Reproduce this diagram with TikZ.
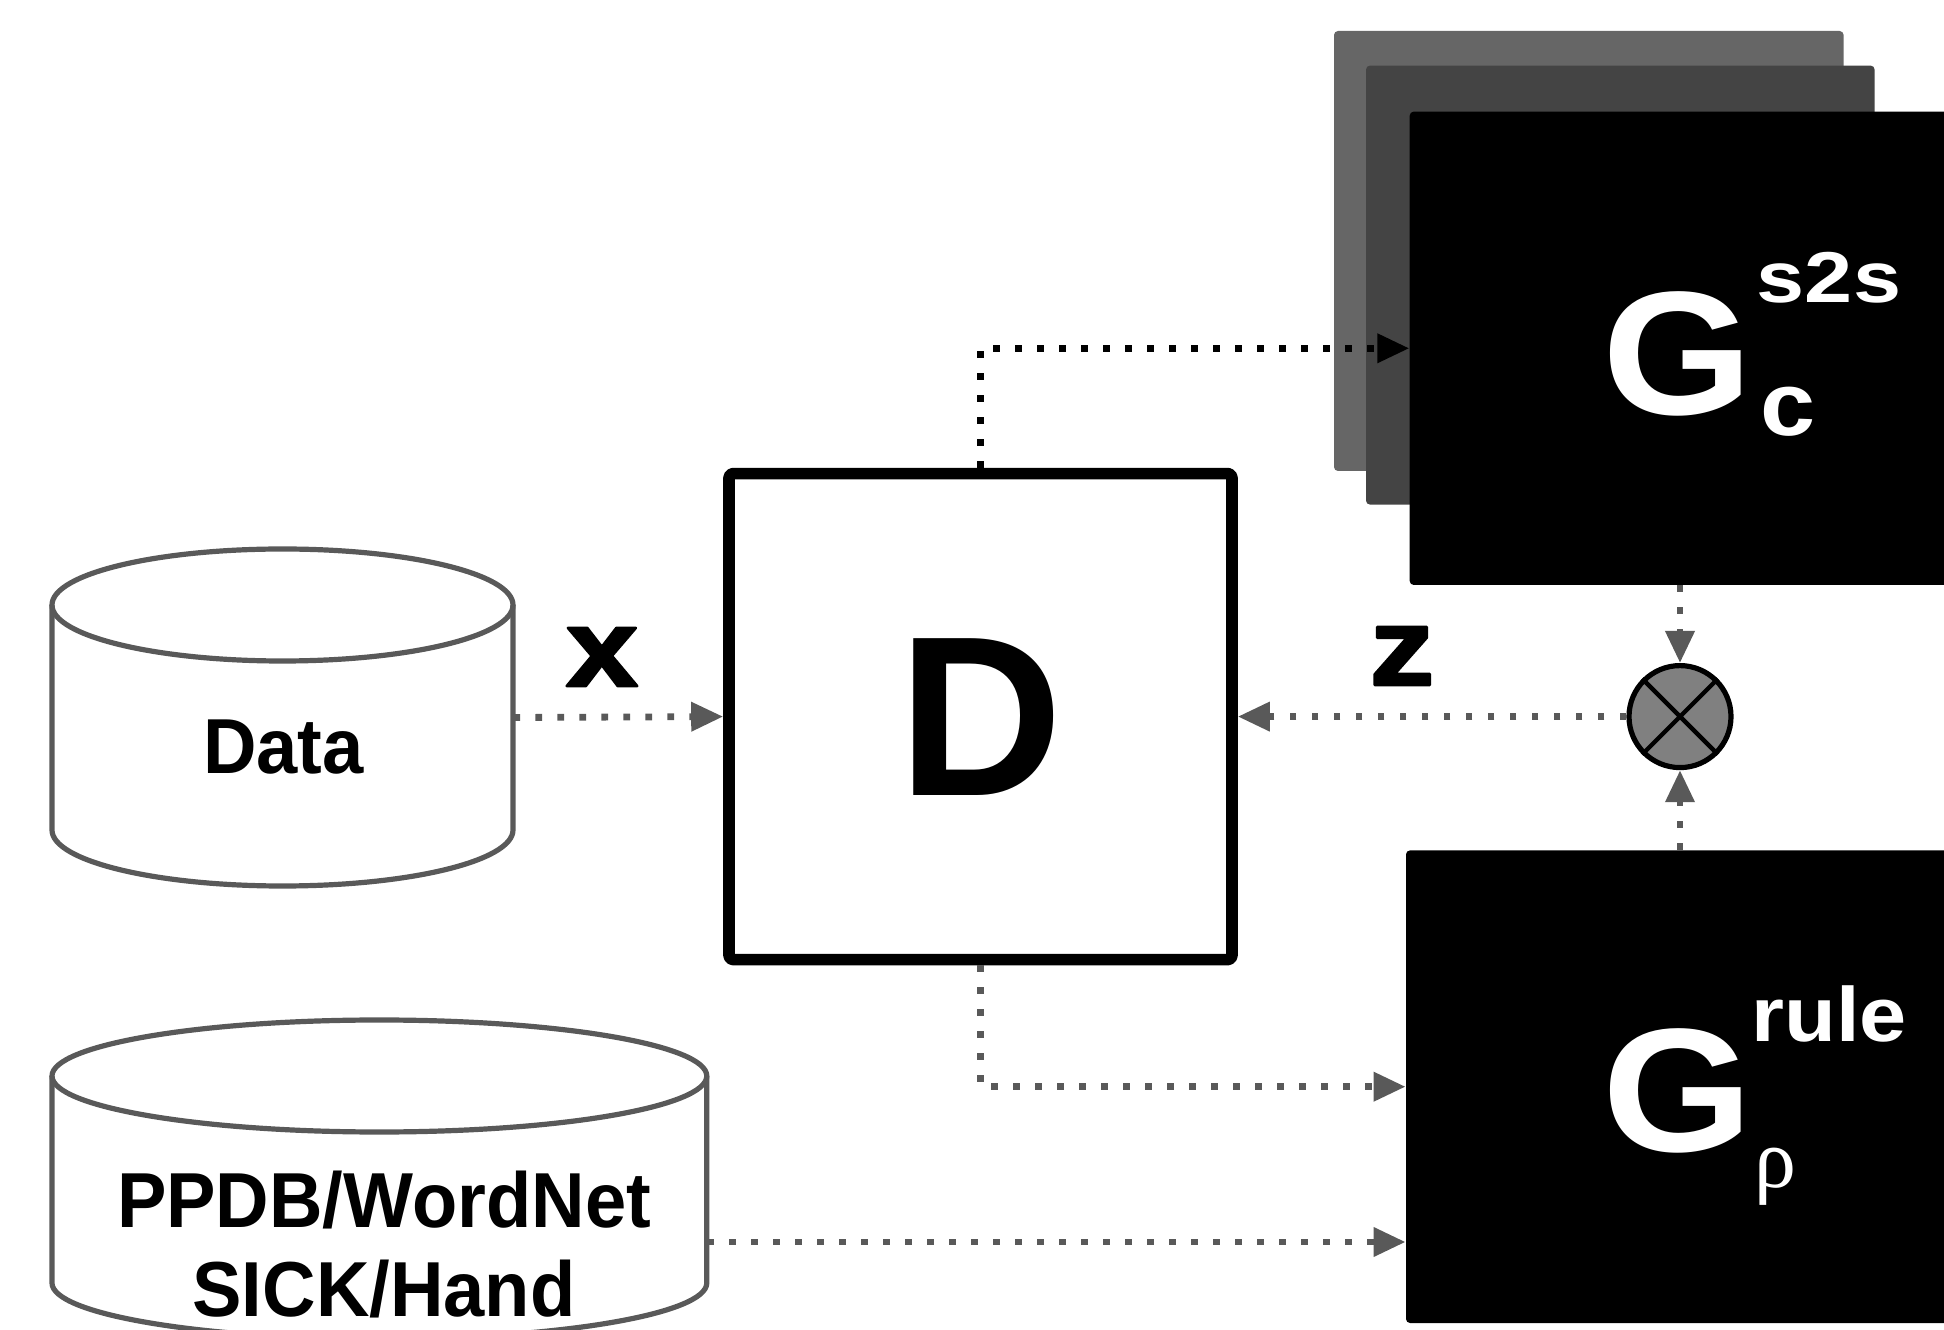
\documentclass[tikz,border=0pt]{standalone}
\usepackage{fontspec}
\setmainfont{Liberation Sans}
\newfontfamily\greekfont{Liberation Serif}
\newfontfamily\widesans[FakeStretch=1.1]{Liberation Sans}
\newfontfamily\supsans[FakeStretch=1.2]{Liberation Sans}
\newfontfamily\narrowsans[FakeStretch=0.95]{Liberation Sans}
\newfontfamily\heavysans[FakeStretch=1.18,FakeBold=2.5]{Liberation Sans}
\usetikzlibrary{arrows.meta}

\definecolor{linegray}{HTML}{595959}
\definecolor{backgray}{HTML}{666666}
\definecolor{midgray}{HTML}{444444}
\definecolor{mixgray}{HTML}{808080}
\newcommand{\fsz}[1]{\fontsize{#1}{#1}\selectfont\bfseries}

\begin{document}
\begin{tikzpicture}[x=0.5pt,y=0.5pt,>={Triangle[length=16pt,width=14pt]},
                    line join=round]
  \tikzstyle{flow}=[->,line width=3.4pt,dash pattern=on 3.4pt off 7.6pt,draw=linegray]
  \tikzstyle{card}=[rectangle,rounded corners=2pt,inner sep=0pt]
  \tikzstyle{dbline}=[draw=linegray,line width=2.6pt]
  \tikzstyle{blank}=[rectangle,inner sep=0pt]
  \tikzstyle{glyph}=[text=white,inner sep=0pt]

  \useasboundingbox (0,0) rectangle (1944,1329);
  \clip (0,0) rectangle (1944,1329);

  % stacked generator cards
  \node[card,fill=backgray,minimum width=254.8pt,minimum height=220pt] (sback) at (1588.8,1078) {};
  \node[card,fill=midgray,minimum width=254.3pt,minimum height=219.5pt] (smid) at (1620.3,1043.9) {};
  \node[card,fill=black,minimum width=270pt,minimum height=236.7pt] (sfront) at (1679.7,980.7) {};
  \node[card,fill=black,minimum width=272pt,minimum height=236.3pt] (rfront) at (1678,242.3) {};

  \node[glyph,font=\widesans\fsz{88}] (gs) at (1678,975) {G};
  \node[glyph,font=\supsans\fsz{36}] (gssup) at (1829,1051) {s2s};
  \node[glyph,font=\widesans\fsz{45}] (gssub) at (1788,917) {c};
  \node[glyph,font=\widesans\fsz{88}] (gr) at (1678,238) {G};
  \node[glyph,font=\widesans\fsz{38.5}] (grsup) at (1829,315) {rule};
  \node[glyph,font=\greekfont\fontsize{42}{42}\selectfont] (grsub) at (1775,152) {ρ};

  % discriminator
  \node[draw,line width=5.8pt,rounded corners=2pt,minimum width=251.5pt,
        minimum height=243pt,font=\fsz{114}] (D) at (980.5,612.4) {D};

  % data stores
  \node[blank,minimum width=230.5pt,minimum height=168.5pt] (data) at (282.5,611.5) {};
  \draw[dbline] (282.5,724) ellipse [x radius=230.5,y radius=56];
  \draw[dbline] (52,724) -- (52,499)
    arc[start angle=180,end angle=360,x radius=230.5,y radius=56] -- (513,724);
  \node[font=\narrowsans\fsz{39}] at (283.5,582) {Data};

  \node[blank,minimum width=327.4pt,minimum height=159.5pt] (ppdb) at (379.4,149.5) {};
  \draw[dbline] (379.4,253) ellipse [x radius=327.4,y radius=56];
  \draw[dbline] (52,253) -- (52,46)
    arc[start angle=180,end angle=360,x radius=327.4,y radius=56] -- (706.8,253);
  \node[font={\narrowsans\fontsize{39}{44.5}\selectfont\bfseries},align=center] at (384,84.5)
    {PPDB/WordNet\\SICK/Hand};

  % product node
  \node[circle,draw=black,fill=mixgray,line width=2.6pt,minimum size=51pt,inner sep=0pt] (mix) at (1680,612.4) {};
  \draw[line width=2.2pt] (mix.north west) -- (mix.south east)
                          (mix.north east) -- (mix.south west);

  \node[font=\heavysans\fsz{55}] (xlab) at (602,672) {x};
  \node[font=\heavysans\fsz{55}] (zlab) at (1402,673) {z};

  \draw[flow] (data.east) -- (D.west);
  \draw[flow] (mix.west) -- (D.east);
  \draw[flow] (mix |- sfront.south) -- (mix.north);
  \draw[flow] (mix |- rfront.north) -- (mix.south);
  \draw[flow,draw=black] (D.north) |- (sfront.west);
  \draw[flow] (D.south) |- (rfront.west);
  \draw[flow] ([yshift=-31.25pt]ppdb.east) -- ([yshift=-31.25pt]ppdb.east -| rfront.west);
\end{tikzpicture}
\end{document}
